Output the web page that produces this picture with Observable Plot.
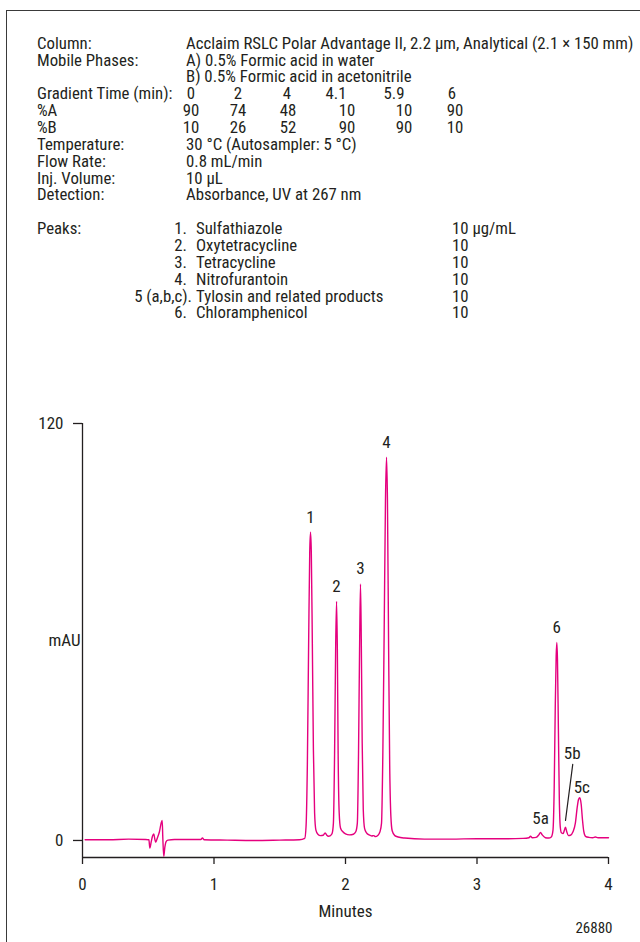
<!DOCTYPE html>
<html><head><meta charset="utf-8">
<script src="https://cdn.jsdelivr.net/npm/d3@7"></script>
<script src="https://cdn.jsdelivr.net/npm/@observablehq/plot@0.6"></script>
<style>
body{margin:0;background:#fff;}
#page{position:relative;width:640px;height:942px;overflow:hidden;font-family:"Roboto Condensed",Roboto,sans-serif;font-stretch:condensed;color:#231f20;}
#frame{position:absolute;left:6px;top:10px;width:800px;height:1200px;border-left:1.5px solid #3a3a3a;border-top:1.5px solid #3a3a3a;}
.t{position:absolute;font-size:16.8px;line-height:13px;height:13px;white-space:nowrap;}
#chart{position:absolute;left:0;top:0;}
</style></head><body>
<div id="page"><div id="frame"></div><div id="chart"></div></div>
<script>
// ---- header text data ----
const condLabels = ["Column:", "Mobile Phases:", "", "Gradient Time (min):", "%A", "%B", "Temperature:", "Flow Rate:", "Inj. Volume:", "Detection:"];
const condValues = ["Acclaim RSLC Polar Advantage II, 2.2 µm, Analytical (2.1 × 150 mm)", "A) 0.5% Formic acid in water", "B) 0.5% Formic acid in acetonitrile", "", "", "", "30 °C (Autosampler: 5 °C)", "0.8 mL/min", "10 µL", "Absorbance, UV at 267 nm"];
const gradientTime = ["0", "2", "4", "4.1", "5.9", "6"];
const percentA = ["90", "74", "48", "10", "10", "90"];
const percentB = ["10", "26", "52", "90", "90", "10"];
const peakNums = ["1.", "2.", "3.", "4.", "5 (a,b,c).", "6."];
const peakNames = ["Sulfathiazole", "Oxytetracycline", "Tetracycline", "Nitrofurantoin", "Tylosin and related products", "Chloramphenicol"];
const peakConc = ["10 µg/mL", "10", "10", "10", "10", "10"];

// ---- chromatogram data (minutes, mAU) ----
const times = [0.02,0.20,0.35,0.48,0.505,0.512,0.522,0.532,0.542,0.550,0.557,0.568,0.585,0.598,0.606,0.611,0.618,0.626,0.636,0.650,0.700,0.800,0.900,0.912,0.925,1.10,1.30,1.50,1.65,
1.690,1.700,1.710,1.720,1.728,1.734,1.740,1.748,1.756,1.765,1.775,1.790,1.810,1.830,1.845,1.858,1.870,1.885,1.898,
1.908,1.917,1.925,1.932,1.938,1.944,1.952,1.962,1.980,2.000,2.030,2.060,2.078,
2.090,2.099,2.107,2.114,2.120,2.127,2.135,2.145,2.160,2.180,2.200,2.215,2.228,2.245,2.262,
2.274,2.284,2.294,2.304,2.312,2.319,2.328,2.336,2.345,2.355,2.375,2.40,2.45,2.60,2.80,3.00,3.20,3.35,3.395,3.407,3.420,3.450,3.470,3.483,3.496,3.520,3.545,3.565,
3.578,3.587,3.595,3.602,3.607,3.612,3.619,3.626,3.633,3.642,3.655,3.665,3.673,3.682,3.695,3.710,3.730,3.748,3.762,3.772,3.782,3.792,3.802,3.812,3.825,3.850,3.880,3.900,3.920,4.000];
const mau = [0.2,0.2,0.4,0.3,0.2,-2.2,-0.5,1.2,1.9,0.4,-0.5,0.6,2.5,5.0,5.75,0.5,-4.6,-2.0,-0.3,0.1,0.3,0.3,0.3,0.7,0.2,0.1,0.0,0.1,0.2,
0.6,4,22,58,83,88.7,83,56,26,8,3,1.8,1.4,1.5,2.2,1.5,1.2,1.4,2.0,
5,25,55,68.8,55,25,8,3.6,2.5,1.9,1.6,1.8,2.5,
5,25,55,73.8,58,28,9,3.5,2.2,1.6,1.3,1.4,1.1,1.4,2.5,
5,25,60,98,110.3,98,55,22,7,2.8,1.4,1.0,0.7,0.4,0.4,0.5,0.5,0.6,0.8,1.2,0.8,0.9,1.6,2.3,1.6,0.8,0.7,1.0,
3,15,38,53,57,52,32,12,4,2.2,2.0,3.0,3.8,2.6,1.4,1.5,2.5,5,9.5,11.8,12.3,10.5,6,2.6,1.2,0.9,0.8,1.0,0.8,0.8];

// peak labels at apex
const peakLabels = ["1", "2", "3", "4", "6", "5a", "5c"];
const peakTimes = [1.734, 1.932, 2.114, 2.312, 3.607, 3.483, 3.782];
const peakHeights = [88.7, 68.8, 73.8, 110.3, 57, 2.3, 12.3];
// 5b label and leader (minutes, mAU)
const label5b = {label: "5b", t: 3.724, v: 25.0};
const leader5b = [{t: 3.728, v: 21.9}, {t: 3.673, v: 5.8}];

const xTicks = [0, 1, 2, 3, 4];
const yTicks = [0, 120];
const yMin = -4.9, yMax = 120;

// ---- header layout ----
const page = document.getElementById("page");
function put(text, x, baseline, anchor) {
  const d = document.createElement("div");
  d.className = "t";
  d.textContent = text;
  d.style.left = x + "px";
  d.style.top = (baseline - 12.25) + "px";
  if (anchor === "middle") d.style.transform = "translateX(-50%)";
  if (anchor === "end") d.style.transform = "translateX(-100%)";
  page.appendChild(d);
}
const row = 16.85;
condLabels.forEach((s, i) => { if (s) put(s, 37, 49 + row * i, "start"); });
condValues.forEach((s, i) => { if (s) put(s, 186, 49 + row * i, "start"); });
const colT = [191, 238, 287, 336, 394, 452];
const colA = [191, 238, 288, 347, 404, 455];
gradientTime.forEach((s, i) => put(s, colT[i], 49 + row * 3, "middle"));
percentA.forEach((s, i) => put(s, colA[i], 49 + row * 4, "middle"));
percentB.forEach((s, i) => put(s, colA[i], 49 + row * 5, "middle"));
const pb = 49 + row * 11;
put("Peaks:", 37, pb, "start");
peakNums.forEach((s, i) => put(s, i === 4 ? 192 : 187, pb + row * i, "end"));
peakNames.forEach((s, i) => put(s, 196, pb + row * i, "start"));
peakConc.forEach((s, i) => put(s, 452, pb + row * i, "start"));

// ---- chart ----
const trace = times.map((t, i) => ({t, v: mau[i]}));
const peaks = peakLabels.map((label, i) => ({label, t: peakTimes[i], v: peakHeights[i]}));
const ink = "#231f20";
const chart = Plot.plot({
  width: 640, height: 942,
  marginTop: 423, marginBottom: 85, marginLeft: 82, marginRight: 32,
  x: {domain: [0, 4]},
  y: {domain: [yMin, yMax]},
  style: {fontFamily: '"Roboto Condensed",Roboto,sans-serif', fontStretch: "condensed", fontSize: "17px", color: ink, background: "transparent", overflow: "visible"},
  marks: [
    Plot.ruleY([yMin], {x1: 0, x2: 4, stroke: ink, strokeWidth: 1.3}),
    Plot.ruleX([0], {y1: yMin, y2: yMax, stroke: ink, strokeWidth: 1.3}),
    Plot.axisX({ticks: xTicks, tickFormat: d => String(d), tickSize: 7, tickPadding: 13, label: null, strokeWidth: 1.3}),
    Plot.axisY({ticks: yTicks, tickFormat: d => String(d), tickSize: 9, tickPadding: 10, label: null, strokeWidth: 1.3}),
    Plot.line(trace, {x: "t", y: "v", stroke: "#e5007e", strokeWidth: 1.4, curve: "monotone-x"}),
    Plot.text(peaks.filter(d => !d.label.startsWith("5")), {x: "t", y: "v", text: "label", dy: -15}),
    Plot.text(peaks.filter(d => d.label === "5a"), {x: "t", y: "v", text: "label", dy: -14}),
    Plot.text(peaks.filter(d => d.label === "5c"), {x: "t", y: "v", text: "label", dy: -10, dx: 2}),
    Plot.text([label5b], {x: "t", y: "v", text: "label"}),
    Plot.line(leader5b, {x: "t", y: "v", stroke: ink, strokeWidth: 1.2}),
    Plot.text(["mAU"], {frameAnchor: "left", text: d => d, dx: -34}),
    Plot.text(["Minutes"], {frameAnchor: "bottom", text: d => d, dy: 59}),
    Plot.text(["26880"], {frameAnchor: "bottom-right", text: d => d, dx: 4, dy: 75, fontSize: 15})
  ]
});
document.getElementById("chart").appendChild(chart);
</script>
</body></html>
